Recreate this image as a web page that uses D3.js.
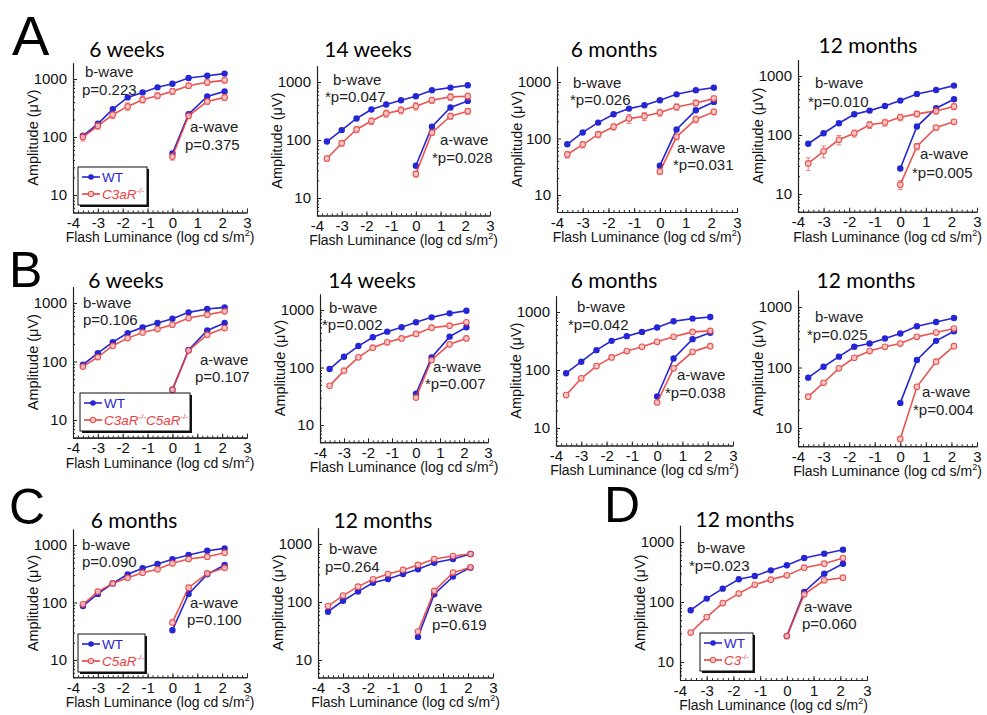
<!DOCTYPE html>
<html>
<head>
<meta charset="utf-8">
<script src="https://cdn.jsdelivr.net/npm/d3@7"></script>
<style>
  body { margin: 0; background: #fff; }
  svg text { font-family: "Liberation Sans", Arial, sans-serif; }
  .title { font-family: Lato, "Open Sans", sans-serif !important; }
  .axis path, .axis line { stroke: #222; }
</style>
</head>
<body>
<div id="chart"></div>
<script>
// flash luminance steps (log cd s/m2)
var xB = [-3.6, -3.0, -2.4, -1.8, -1.2, -0.6, 0, 0.65, 1.4, 2.1];
var xA = [0, 0.65, 1.4, 2.1];

// A: C3aR-/-
var wtB_A1 = [105, 169, 303, 482, 587, 718, 830, 1040, 1140, 1240];
var koB_A1 = [100, 156, 242, 337, 440, 515, 612, 767, 876, 948];
var wtA_A1 = [52, 248, 501, 612];
var koA_A1 = [46, 232, 411, 482];
var errB_A1 = [15, 20, 35, 50, 55, 60, 70, 80, 90, 95];
var errA_A1 = [6, 25, 45, 55];

var wtB_A2 = [94, 148, 235, 336, 409, 485, 568, 720, 800, 877];
var koB_A2 = [48, 88, 152, 212, 287, 327, 383, 485, 553, 568];
var wtA_A2 = [36, 169, 363, 472];
var koA_A2 = [26, 134, 258, 314];
var errB_A2 = [5, 10, 18, 28, 40, 45, 55, 60, 70, 75];
var errA_A2 = [3, 15, 30, 35];

var wtB_A3 = [79, 128, 191, 268, 338, 387, 475, 605, 713, 794];
var koB_A3 = [52, 78, 118, 161, 225, 248, 288, 362, 426, 508];
var wtA_A3 = [33, 144, 316, 444];
var koA_A3 = [26, 107, 219, 296];
var errB_A3 = [7, 10, 15, 20, 40, 40, 40, 45, 50, 55];
var errA_A3 = [3, 12, 30, 35];

var wtB_A4 = [71, 107, 158, 225, 259, 311, 383, 497, 580, 687];
var koB_A4 = [33, 53, 83, 107, 149, 163, 200, 228, 256, 303];
var wtA_A4 = [27, 139, 284, 403];
var koA_A4 = [14.4, 64, 134, 167];
var errB_A4 = [8, 12, 15, 15, 20, 22, 25, 25, 30, 35];
var errA_A4 = [2.5, 8, 12, 15];

// B: C3aR-/-C5aR-/-
var wtB_B1 = [88, 139, 214, 306, 383, 454, 539, 692, 788, 843];
var koB_B1 = [82, 119, 186, 251, 314, 358, 425, 553, 631, 720];
var wtA_B1 = [33, 158, 340, 454];
var koA_B1 = [33, 154, 287, 373];

var wtB_B2 = [94, 154, 236, 335, 420, 500, 611, 745, 875, 973];
var koB_B2 = [48, 88, 150, 221, 274, 321, 383, 493, 534, 611];
var wtA_B2 = [35, 150, 344, 500];
var koA_B2 = [30, 135, 253, 321];

var wtB_B3 = [88, 139, 220, 318, 383, 454, 539, 692, 769, 821];
var koB_B3 = [37, 72, 117, 165, 212, 251, 306, 373, 454, 472];
var wtA_B3 = [35, 158, 340, 437];
var koA_B3 = [27.5, 107, 206, 258];

var wtB_B4 = [68, 103, 151, 220, 249, 301, 365, 481, 566, 659];
var koB_B4 = [33, 56, 97, 145, 187, 220, 249, 321, 378, 440];
var wtA_B4 = [26, 133, 276, 398];
var koA_B4 = [6.6, 48, 125, 225];

// C: C5aR-/-
var wtB_C1 = [87, 141, 215, 309, 393, 467, 564, 670, 796, 875];
var koB_C1 = [93, 154, 215, 270, 330, 378, 480, 571, 627, 736];
var wtA_C1 = [33, 141, 309, 449];
var koA_C1 = [45, 181, 321, 403];

var wtB_C2 = [68, 105, 151, 215, 249, 304, 366, 476, 551, 673];
var koB_C2 = [85, 129, 184, 246, 304, 357, 435, 551, 621, 673];
var wtA_C2 = [25, 136, 274, 391];
var koA_C2 = [31, 155, 321, 396];

// D: C3-/-
var wtB_D = [73, 114, 167, 239, 271, 337, 409, 541, 639, 745];
var koB_D = [31, 56, 96, 138, 194, 236, 278, 373, 435, 541];
var wtA_D = [27, 147, 297, 435];
var koA_D = [27, 134, 230, 254];

var xTicks = [-4, -3, -2, -1, 0, 1, 2, 3];
var yTicks = [10, 100, 1000];

var blue = "#2626d4";
var red = "#e8423f";

var panels = [
  {title: "6 weeks", wtB: wtB_A1, koB: koB_A1, wtA: wtA_A1, koA: koA_A1, errB: errB_A1, errA: errA_A1, pB: "p=0.223", pA: "p=0.375", ko: ["C3aR"],
   L: {x0: 73, x1: 247, y1000: 79, y10: 195, tx: 127, ty: 57, b: [85, 77], pb: [82, 95], a: [190, 132], pa: [185, 150], leg: [78, 167, 69]}},
  {title: "14 weeks", wtB: wtB_A2, koB: koB_A2, wtA: wtA_A2, koA: koA_A2, errB: errB_A2, errA: errA_A2, pB: "*p=0.047", pA: "*p=0.028",
   L: {x0: 317, x1: 490, y1000: 82, y10: 198, tx: 368, ty: 57, b: [333, 85], pb: [325, 102], a: [440, 145], pa: [432, 163]}},
  {title: "6 months", wtB: wtB_A3, koB: koB_A3, wtA: wtA_A3, koA: koA_A3, errB: errB_A3, errA: errA_A3, pB: "*p=0.026", pA: "*p=0.031",
   L: {x0: 557, x1: 737, y1000: 82, y10: 195, tx: 614, ty: 57, b: [573, 88], pb: [570, 105], a: [677, 153], pa: [673, 170]}},
  {title: "12 months", wtB: wtB_A4, koB: koB_A4, wtA: wtA_A4, koA: koA_A4, errB: errB_A4, errA: errA_A4, pB: "*p=0.010", pA: "*p=0.005",
   L: {x0: 798, x1: 977, y1000: 76, y10: 194, tx: 868, ty: 53, b: [815, 88], pb: [808, 107], a: [920, 159], pa: [912, 178]}},

  {title: "6 weeks", wtB: wtB_B1, koB: koB_B1, wtA: wtA_B1, koA: koA_B1, pB: "p=0.106", pA: "p=0.107", ko: ["C3aR", "C5aR"],
   L: {x0: 73, x1: 247, y1000: 303, y10: 420, tx: 126, ty: 288, b: [83, 308], pb: [83, 325], a: [200, 365], pa: [195, 382], leg: [80, 393, 110]}},
  {title: "14 weeks", wtB: wtB_B2, koB: koB_B2, wtA: wtA_B2, koA: koA_B2, pB: "*p=0.002", pA: "*p=0.007",
   L: {x0: 320, x1: 488, y1000: 310, y10: 425, tx: 372, ty: 288, b: [329, 313], pb: [322, 330], a: [433, 372], pa: [425, 389]}},
  {title: "6 months", wtB: wtB_B3, koB: koB_B3, wtA: wtA_B3, koA: koA_B3, pB: "*p=0.042", pA: "*p=0.038",
   L: {x0: 556, x1: 733, y1000: 312, y10: 428, tx: 614, ty: 288, b: [577, 312], pb: [568, 330], a: [677, 380], pa: [665, 398]}},
  {title: "12 months", wtB: wtB_B4, koB: koB_B4, wtA: wtA_B4, koA: koA_B4, pB: "*p=0.025", pA: "*p=0.004",
   L: {x0: 798, x1: 977, y1000: 307, y10: 428, tx: 866, ty: 288, b: [815, 322], pb: [807, 340], a: [922, 397], pa: [913, 415]}},

  {title: "6 months", wtB: wtB_C1, koB: koB_C1, wtA: wtA_C1, koA: koA_C1, pB: "p=0.090", pA: "p=0.100", ko: ["C5aR"],
   L: {x0: 73, x1: 247, y1000: 545, y10: 660, tx: 134, ty: 528, b: [82, 550], pb: [82, 567], a: [190, 608], pa: [187, 625], leg: [78, 634, 67]}},
  {title: "12 months", wtB: wtB_C2, koB: koB_C2, wtA: wtA_C2, koA: koA_C2, pB: "p=0.264", pA: "p=0.619",
   L: {x0: 318, x1: 493, y1000: 544, y10: 660, tx: 383, ty: 528, b: [329, 554], pb: [325, 572], a: [434, 612], pa: [432, 630]}},

  {title: "12 months", wtB: wtB_D, koB: koB_D, wtA: wtA_D, koA: koA_D, pB: "*p=0.023", pA: "p=0.060", ko: ["C3"],
   L: {x0: 680, x1: 867, y1000: 542, y10: 662, tx: 745, ty: 527, b: [697, 553], pb: [689, 571], a: [804, 612], pa: [802, 629], leg: [700, 633, 53]}}
];

var letters = [["A", 12, 55, 56], ["B", 9, 287, 50], ["C", 9, 524, 50], ["D", 604, 522, 50]];

var w = 987, h = 715;
var svg = d3.select("#chart").append("svg").attr("width", w).attr("height", h);

letters.forEach(function(l) {
  svg.append("text").attr("x", l[1]).attr("y", l[2])
    .style("font-size", l[3] + "px").attr("fill", "#000").text(l[0]);
});

var minorX = d3.range(-4, 3.001, 0.2).map(function(d) { return Math.round(d * 10) / 10; });
var minorY = [];
[1, 10, 100, 1000].forEach(function(dec) {
  for (var k = 2; k <= 9; k++) {
    var v = dec * k;
    if (v >= 5 && v <= 1900) minorY.push(v);
  }
});

panels.forEach(function(p) {
  var L = p.L;
  var x = d3.scaleLinear().domain([-4, 3]).range([L.x0, L.x1]);
  var yRef = d3.scaleLog().domain([10, 1000]).range([L.y10, L.y1000]);
  var y = d3.scaleLog().domain([5, 1900]).range([yRef(5), yRef(1900)]);
  var g = svg.append("g");
  var bottom = yRef(5);

  // title
  g.append("text").attr("class", "title").attr("x", L.tx).attr("y", L.ty)
    .attr("text-anchor", "middle").style("font-size", "21px").text(p.title);

  // axes (minor ticks first, their empty labels removed)
  g.append("g").attr("class", "axis").attr("transform", "translate(0," + bottom + ")")
    .call(d3.axisBottom(x).tickValues(minorX).tickSize(-2).tickSizeOuter(0))
    .selectAll("text").remove();
  g.append("g").attr("class", "axis").attr("transform", "translate(0," + bottom + ")")
    .call(d3.axisBottom(x).tickValues(xTicks).tickSize(-4).tickSizeOuter(0).tickPadding(5)
      .tickFormat(function(d) { return String(d); }))
    .selectAll("text").style("font-size", "15px").attr("fill", "#111");
  g.append("g").attr("class", "axis").attr("transform", "translate(" + L.x0 + ",0)")
    .call(d3.axisLeft(y).tickValues(minorY).tickSize(-2).tickSizeOuter(0))
    .selectAll("text").remove();
  g.append("g").attr("class", "axis").attr("transform", "translate(" + L.x0 + ",0)")
    .call(d3.axisLeft(y).tickValues(yTicks).tickSize(-4).tickSizeOuter(0).tickPadding(6)
      .tickFormat(function(d) { return String(d); }))
    .selectAll("text").style("font-size", "15px").attr("fill", "#111");
  g.selectAll(".axis .domain").attr("stroke-width", 1.1);

  // axis titles
  var xl = g.append("text").attr("x", (L.x0 + L.x1) / 2).attr("y", bottom + 30)
    .attr("text-anchor", "middle").style("font-size", "14px").attr("fill", "#111");
  xl.append("tspan").text("Flash Luminance (log cd s/m");
  xl.append("tspan").attr("dy", -6).style("font-size", "9px").text("2");
  xl.append("tspan").attr("dy", 6).text(")");
  g.append("text")
    .attr("transform", "translate(" + (L.x0 - 35) + "," + ((yRef(1900) + bottom) / 2) + ") rotate(-90)")
    .attr("text-anchor", "middle").style("font-size", "14.5px").attr("fill", "#111")
    .text("Amplitude (\u03bcV)");

  // annotations
  [[L.b, "b-wave"], [L.pb, p.pB], [L.a, "a-wave"], [L.pa, p.pA]].forEach(function(t) {
    g.append("text").attr("x", t[0][0]).attr("y", t[0][1])
      .style("font-size", "15px").attr("fill", "#222").text(t[1]);
  });

  var line = d3.line().x(function(d) { return x(d[0]); }).y(function(d) { return y(d[1]); });

  function series(xs, ys, color, filled, err) {
    var pts = xs.map(function(v, i) { return [v, ys[i], err ? err[i] : 0]; });
    var s = g.append("g").attr("opacity", filled ? 1 : 0.9);
    if (err) {
      s.selectAll("line.err").data(pts).join("line").attr("class", "err")
        .attr("x1", function(d) { return x(d[0]); }).attr("x2", function(d) { return x(d[0]); })
        .attr("y1", function(d) { return y(d[1] + d[2]); }).attr("y2", function(d) { return y(d[1] - d[2]); })
        .attr("stroke", color).attr("stroke-width", 1).attr("opacity", 0.7);
      ["u", "d"].forEach(function(sg) {
        s.selectAll("line.cap" + sg).data(pts).join("line").attr("class", "cap" + sg)
          .attr("x1", function(d) { return x(d[0]) - 2.5; }).attr("x2", function(d) { return x(d[0]) + 2.5; })
          .attr("y1", function(d) { return y(sg === "u" ? d[1] + d[2] : d[1] - d[2]); })
          .attr("y2", function(d) { return y(sg === "u" ? d[1] + d[2] : d[1] - d[2]); })
          .attr("stroke", color).attr("stroke-width", 1).attr("opacity", 0.7);
      });
    }
    s.append("path").datum(pts).attr("d", line).attr("fill", "none")
      .attr("stroke", color).attr("stroke-width", 1.6);
    s.selectAll("circle").data(pts).join("circle")
      .attr("cx", function(d) { return x(d[0]); }).attr("cy", function(d) { return y(d[1]); })
      .attr("r", filled ? 3.2 : 2.8)
      .attr("fill", filled ? color : "#f7c2c0").attr("stroke", color).attr("stroke-width", filled ? 0 : 1.1);
  }

  series(xB, p.wtB, blue, true);
  series(xA, p.wtA, blue, true);
  series(xB, p.koB, red, false, p.errB);
  series(xA, p.koA, red, false, p.errA);

  // legend
  if (p.ko) {
    var lx = L.leg[0], ly = L.leg[1], lw = L.leg[2], lh = 38;
    var lg = g.append("g");
    lg.append("rect").attr("x", lx + 2).attr("y", ly + 2).attr("width", lw).attr("height", lh).attr("fill", "#111");
    lg.append("rect").attr("x", lx).attr("y", ly).attr("width", lw).attr("height", lh)
      .attr("fill", "#fff").attr("stroke", "#111").attr("stroke-width", 1);
    [[ly + 10, blue, true], [ly + 27, red, false]].forEach(function(r, i) {
      lg.append("line").attr("x1", lx + 4).attr("x2", lx + 22).attr("y1", r[0]).attr("y2", r[0])
        .attr("stroke", r[1]).attr("stroke-width", 1.6);
      lg.append("circle").attr("cx", lx + 13).attr("cy", r[0]).attr("r", 2.8)
        .attr("fill", r[2] ? r[1] : "#f7c2c0").attr("stroke", r[1]).attr("stroke-width", r[2] ? 0 : 1);
      var t = lg.append("text").attr("x", lx + 24).attr("y", r[0] + 5)
        .style("font-size", "13.5px").attr("fill", r[1]);
      if (i === 0) {
        t.text("WT");
      } else {
        p.ko.forEach(function(name, j) {
          t.append("tspan").style("font-style", "italic").attr("dy", j === 0 ? 0 : 6).text(name);
          t.append("tspan").style("font-size", "8px").attr("dy", -6).text("-/-");
        });
      }
    });
  }
});
</script>
</body>
</html>
